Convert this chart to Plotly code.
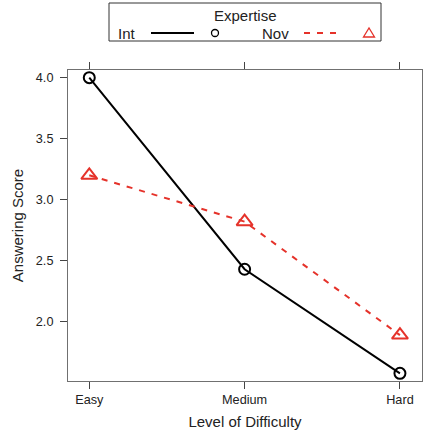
import plotly.graph_objects as go

# ---- data ----
levels = ["Easy", "Medium", "Hard"]
int_scores = [4.00, 2.43, 1.577]
nov_scores = [3.20, 2.82, 1.89]
y_ticks = [2.0, 2.5, 3.0, 3.5, 4.0]

W, H = 423, 438
L, R, T, B = 68, 1, 70, 57
PW, PH = W - L - R, H - T - B

def px2x(px):
    return (px - L) / PW

def py2y(py):
    return (H - B - py) / PH

BLACK = "#000000"
RED = "#E5322A"
FONT = "Liberation Sans, Arial, Helvetica, sans-serif"

fig = go.Figure()
fig.add_trace(go.Scatter(
    x=levels, y=int_scores, mode="lines+markers", name="Int",
    line=dict(color=BLACK, width=2),
    marker=dict(symbol="circle-open", size=11, color=BLACK, line=dict(width=2)),
    showlegend=False,
))
fig.add_trace(go.Scatter(
    x=levels, y=nov_scores, mode="lines+markers", name="Nov",
    line=dict(color=RED, width=2, dash="6px,7px"),
    marker=dict(symbol="triangle-up-open", size=14, color=RED, line=dict(width=2)),
    showlegend=False,
))

axis_common = dict(
    showgrid=False, zeroline=False, showline=True, linecolor="#707070", linewidth=1,
    mirror="allticks", ticks="outside", ticklen=7, tickcolor="#444444", tickwidth=1,
    tickfont=dict(family=FONT, size=12.7, color="#222222"), automargin=False,
)

fig.update_layout(
    width=W, height=H, autosize=False,
    margin=dict(l=L, r=R, t=T, b=B, pad=0, autoexpand=False),
    paper_bgcolor="white", plot_bgcolor="white",
    font=dict(family=FONT, color="#222222"),
    xaxis=dict(
        type="category", range=[-0.137, 2.142],
        title=dict(text="Level of Difficulty", font=dict(family=FONT, size=15, color="#222222"), standoff=10),
        **axis_common,
    ),
    yaxis=dict(
        range=[1.514, 4.063], tickvals=y_ticks, ticktext=[f"{v:.1f}" for v in y_ticks],
        title=dict(text="Answering Score", font=dict(family=FONT, size=15, color="#222222"), standoff=8),
        ticklabelstandoff=4,
        **axis_common,
    ),
)

# ---- custom lattice-style legend ----
shapes = []
annotations = []
shapes.append(dict(type="rect", xref="paper", yref="paper",
                   x0=px2x(109), x1=px2x(381), y0=py2y(41), y1=py2y(3),
                   line=dict(color="#333333", width=1), fillcolor="white"))
ly = py2y(33)
annotations.append(dict(text="Expertise", x=px2x(245), y=py2y(15), xref="paper", yref="paper",
                        showarrow=False, xanchor="center", yanchor="middle",
                        font=dict(family=FONT, size=15, color="#222222")))
annotations.append(dict(text="Int", x=px2x(126.5), y=ly, xref="paper", yref="paper",
                        showarrow=False, xanchor="center", yanchor="middle",
                        font=dict(family=FONT, size=15, color="#222222")))
annotations.append(dict(text="Nov", x=px2x(275), y=ly, xref="paper", yref="paper",
                        showarrow=False, xanchor="center", yanchor="middle",
                        font=dict(family=FONT, size=15, color="#222222")))
shapes.append(dict(type="line", xref="paper", yref="paper",
                   x0=px2x(151), x1=px2x(194), y0=ly, y1=ly,
                   line=dict(color=BLACK, width=2)))
shapes.append(dict(type="circle", xref="paper", yref="paper",
                   xsizemode="pixel", ysizemode="pixel",
                   xanchor=px2x(215), yanchor=ly, x0=-3.5, x1=3.5, y0=-3.5, y1=3.5,
                   line=dict(color=BLACK, width=1.3)))
shapes.append(dict(type="line", xref="paper", yref="paper",
                   x0=px2x(304), x1=px2x(342), y0=ly, y1=ly,
                   line=dict(color=RED, width=2, dash="6px,7px")))
shapes.append(dict(type="path", xref="paper", yref="paper",
                   xsizemode="pixel", ysizemode="pixel",
                   xanchor=px2x(369), yanchor=ly,
                   path="M -5.5,-4 L 5.5,-4 L 0,5 Z",
                   line=dict(color=RED, width=1.3)))

fig.update_layout(shapes=shapes, annotations=annotations)

fig.write_html(
    "out.html",
    config={"displayModeBar": False, "responsive": False, "staticPlot": True},
    post_script="document.body.style.margin='0px';document.body.style.padding='0px';"
                "document.body.style.overflow='hidden';document.documentElement.style.overflow='hidden';",
)
